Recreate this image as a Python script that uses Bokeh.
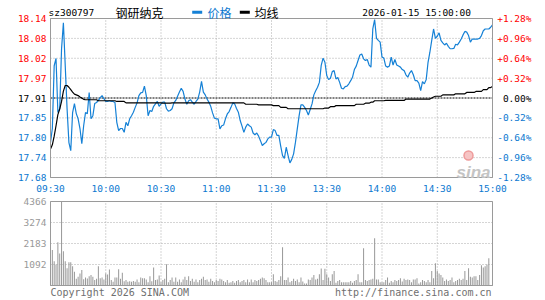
from bokeh.plotting import figure
from bokeh.models import Range1d
from bokeh.core.properties import value
from bokeh.embed import file_html
from bokeh.resources import INLINE

# ---------------- data ----------------
stock_code = "sz300797"
stock_name = "钢研纳克"
timestamp = "2026-01-15 15:00:00"
legend_labels = ["价格", "均线"]
prev_close = 17.91
pct_levels = [1.28, 0.96, 0.64, 0.32, 0.0, -0.32, -0.64, -0.96, -1.28]
price_labels = ["18.14", "18.08", "18.02", "17.97", "17.91", "17.85", "17.80", "17.74", "17.68"]
pct_labels = ["+1.28%", "+0.96%", "+0.64%", "+0.32%", "0.00%", "-0.32%", "-0.64%", "-0.96%", "-1.28%"]
time_ticks = [0, 30, 60, 90, 120, 150, 180, 210, 240]
time_labels = ["09:30", "10:00", "10:30", "11:00", "11:30", "13:30", "14:00", "14:30", "15:00"]
vol_ticks = [1092, 2183, 3274, 4366]
vol_labels = ["1092", "2183", "3274", "4366"]
vol_max = 4366
footer_left = "Copyright 2026 SINA.COM"
footer_right = "http://finance.sina.com.cn"

price = [
    17.782, 17.822, 18.003, 18.024, 17.868, 17.879, 18.052, 18.127, 18.003, 17.879,
    17.781, 17.758, 17.868, 17.894, 17.865, 17.850, 17.822, 17.778, 17.830, 17.868,
    17.865, 17.926, 17.850, 17.859, 17.894, 17.897, 17.903, 17.911, 17.917, 17.908,
    17.900, 17.900, 17.902, 17.900, 17.900, 17.897, 17.840, 17.816, 17.822, 17.822,
    17.811, 17.840, 17.830, 17.850, 17.859, 17.869, 17.883, 17.896, 17.917, 17.925,
    17.926, 17.944, 17.917, 17.859, 17.874, 17.871, 17.886, 17.893, 17.900, 17.886,
    17.893, 17.898, 17.898, 17.879, 17.872, 17.874, 17.879, 17.896, 17.903, 17.915,
    17.927, 17.938, 17.929, 17.907, 17.892, 17.902, 17.905, 17.898, 17.892, 17.900,
    17.907, 17.927, 17.958, 17.927, 17.919, 17.907, 17.898, 17.886, 17.867, 17.852,
    17.850, 17.850, 17.821, 17.830, 17.832, 17.850, 17.864, 17.871, 17.883, 17.896,
    17.893, 17.880, 17.869, 17.845, 17.829, 17.811, 17.826, 17.835, 17.830, 17.826,
    17.809, 17.804, 17.809, 17.800, 17.787, 17.773, 17.778, 17.782, 17.792, 17.797,
    17.797, 17.819, 17.816, 17.802, 17.802, 17.771, 17.744, 17.736, 17.768, 17.744,
    17.723, 17.733, 17.749, 17.782, 17.821, 17.859, 17.890, 17.890, 17.883, 17.874,
    17.861, 17.877, 17.893, 17.919, 17.931, 17.941, 17.955, 18.004, 18.025, 18.013,
    17.975, 17.963, 17.967, 17.986, 17.989, 17.965, 17.969, 17.955, 17.938, 17.936,
    17.943, 17.944, 17.951, 17.960, 17.970, 17.992, 18.002, 18.018, 18.034, 18.037,
    18.023, 18.018, 18.021, 18.005, 17.999, 18.109, 18.136, 18.082, 18.076, 18.071,
    18.028, 18.025, 18.002, 17.999, 18.002, 18.028, 18.005, 18.021, 18.005, 18.002,
    17.999, 17.992, 17.989, 17.977, 17.970, 17.982, 17.989, 17.977, 17.960, 17.960,
    17.953, 17.931, 17.957, 17.951, 17.963, 18.013, 18.042, 18.076, 18.109, 18.082,
    18.088, 18.098, 18.076, 18.069, 18.063, 18.068, 18.059, 18.052, 18.052, 18.053,
    18.065, 18.063, 18.071, 18.080, 18.092, 18.102, 18.100, 18.090, 18.071, 18.080,
    18.080, 18.080, 18.080, 18.082, 18.090, 18.104, 18.109, 18.109, 18.109, 18.114,
    18.121,
]

avg_price = [
    17.763, 17.775, 17.800, 17.830, 17.862, 17.878, 17.900, 17.930, 17.946, 17.946,
    17.941, 17.934, 17.927, 17.921, 17.919, 17.917, 17.913, 17.910, 17.906, 17.905,
    17.905, 17.905, 17.905, 17.905, 17.905, 17.905, 17.902, 17.902, 17.902, 17.902,
    17.902, 17.902, 17.902, 17.902, 17.902, 17.902, 17.900, 17.900, 17.900, 17.900,
    17.900, 17.896, 17.896, 17.896, 17.896, 17.896, 17.896, 17.896, 17.896, 17.896,
    17.896, 17.896, 17.896, 17.896, 17.896, 17.896, 17.896, 17.896, 17.896, 17.896,
    17.896, 17.895, 17.895, 17.895, 17.895, 17.895, 17.896, 17.896, 17.896, 17.896,
    17.896, 17.896, 17.896, 17.896, 17.896, 17.896, 17.896, 17.896, 17.896, 17.896,
    17.896, 17.896, 17.896, 17.896, 17.896, 17.896, 17.896, 17.896, 17.896, 17.896,
    17.896, 17.896, 17.896, 17.896, 17.896, 17.896, 17.896, 17.896, 17.896, 17.896,
    17.896, 17.896, 17.896, 17.896, 17.896, 17.896, 17.892, 17.892, 17.892, 17.892,
    17.892, 17.892, 17.892, 17.890, 17.890, 17.890, 17.890, 17.890, 17.890, 17.890,
    17.890, 17.888, 17.888, 17.888, 17.888, 17.883, 17.883, 17.883, 17.883, 17.879,
    17.879, 17.879, 17.879, 17.879, 17.879, 17.879, 17.879, 17.879, 17.879, 17.879,
    17.879, 17.879, 17.879, 17.879, 17.879, 17.879, 17.879, 17.879, 17.879, 17.881,
    17.881, 17.881, 17.885, 17.885, 17.885, 17.888, 17.888, 17.888, 17.888, 17.888,
    17.888, 17.888, 17.888, 17.888, 17.888, 17.888, 17.892, 17.892, 17.892, 17.892,
    17.892, 17.895, 17.895, 17.895, 17.898, 17.898, 17.902, 17.902, 17.902, 17.902,
    17.902, 17.902, 17.903, 17.903, 17.903, 17.903, 17.903, 17.903, 17.903, 17.903,
    17.903, 17.903, 17.903, 17.907, 17.907, 17.907, 17.907, 17.907, 17.907, 17.907,
    17.907, 17.907, 17.907, 17.907, 17.907, 17.907, 17.907, 17.910, 17.913, 17.915,
    17.915, 17.915, 17.915, 17.919, 17.919, 17.919, 17.919, 17.919, 17.919, 17.919,
    17.922, 17.922, 17.922, 17.922, 17.922, 17.922, 17.926, 17.926, 17.926, 17.926,
    17.926, 17.929, 17.929, 17.929, 17.929, 17.934, 17.934, 17.934, 17.940, 17.940,
    17.943,
]

volume = [
    590, 1840, 1265, 1090, 2250, 1660, 4366, 1785, 1265, 900,
    1210, 1210, 1005, 710, 350, 450, 620, 800, 330, 415,
    365, 485, 540, 450, 280, 350, 1005, 380, 415, 310,
    620, 570, 830, 280, 190, 415, 415, 850, 350, 660,
    225, 280, 190, 225, 190, 240, 190, 310, 175, 415,
    380, 380, 310, 175, 485, 225, 935, 280, 310, 520,
    175, 280, 350, 1110, 175, 280, 415, 190, 415, 190,
    310, 175, 310, 450, 280, 485, 240, 350, 190, 310,
    175, 280, 350, 450, 280, 310, 190, 350, 240, 175,
    280, 240, 350, 310, 240, 175, 280, 140, 175, 240,
    140, 240, 280, 175, 240, 280, 175, 310, 175, 310,
    175, 280, 240, 280, 350, 415, 380, 280, 175, 175,
    175, 590, 240, 190, 280, 485, 1990, 280, 280, 415,
    175, 240, 350, 240, 310, 175, 415, 210, 100, 100,
    310, 280, 415, 540, 310, 350, 590, 885, 280, 865,
    590, 415, 240, 590, 760, 140, 240, 280, 175, 175,
    175, 175, 175, 240, 140, 240, 280, 590, 175, 175,
    1940, 280, 240, 280, 310, 350, 2460, 310, 310, 175,
    175, 175, 280, 415, 140, 240, 175, 280, 240, 280,
    380, 210, 350, 280, 310, 280, 175, 310, 310, 380,
    100, 175, 280, 240, 175, 280, 175, 760, 380, 1160,
    760, 620, 540, 415, 240, 310, 240, 280, 415, 175,
    240, 280, 350, 280, 350, 760, 280, 900, 450, 415,
    485, 485, 280, 540, 1055, 935, 1005, 1090, 1420, 0,
    1500,
]

# ---------------- layout / style constants ----------------
W, H = 545, 300
L, R = 50, 492          # plot area left/right (px)
PT, PB = 18, 177        # price panel top/bottom (px)
VT, VB = 201, 285       # volume panel top/bottom (px)
N_MIN = 240

MONO = "DejaVu Sans Mono"
CJK = "Noto Sans CJK SC"
RED = "#ff0000"
BLUE = "#0b78d0"
LINE_BLUE = "#1581d6"
GRID = "#aaaaaa"
FRAME = "#9a9a9a"
VOLGRAY = "#999999"
FOOTGRAY = "#6f6f6f"

levels = [prev_close * (1 + v / 100.0) for v in pct_levels]
hi, lo = levels[0], levels[-1]

mpp = N_MIN / (R - L)                 # minutes per pixel
ppp = (hi - lo) / (PB - PT)           # price per pixel
vpp = vol_max / (VB - VT)             # volume per pixel


def X(px):
    return (px - L) * mpp


def YP(py):
    return hi - (py - PT) * ppp


def YV(py):
    return vol_max - (py - VT) * vpp


p = figure(width=W, height=H, output_backend="svg", toolbar_location=None,
           x_range=Range1d(X(0), X(W)), y_range=Range1d(YP(H), YP(0)),
           x_axis_location=None, y_axis_location=None,
           min_border=0, min_border_left=0, min_border_right=0,
           min_border_top=0, min_border_bottom=0)
p.extra_y_ranges = {"vol": Range1d(YV(H), YV(0))}
p.outline_line_color = None
p.background_fill_color = "white"
p.border_fill_color = "white"
p.grid.visible = False

# ---------- price panel grid ----------
grid_levels = [lv for lv, v in zip(levels, pct_levels) if v != 0]
p.segment(x0=[0] * len(grid_levels), x1=[N_MIN] * len(grid_levels),
          y0=grid_levels, y1=grid_levels,
          line_color=GRID, line_dash="1 2", line_width=1)
p.segment(x0=time_ticks, x1=time_ticks, y0=[lo] * len(time_ticks), y1=[hi] * len(time_ticks),
          line_color=GRID, line_dash="1 2", line_width=1)
p.segment(x0=[0], x1=[N_MIN], y0=[prev_close], y1=[prev_close],
          line_color="black", line_dash="2 1", line_width=1)

# ---------- price + average lines ----------
p.line(x=list(range(len(price))), y=price, line_color=LINE_BLUE, line_width=1.2)
p.line(x=list(range(len(avg_price))), y=avg_price, line_color="black", line_width=1.2)

p.quad(left=[0], right=[N_MIN], bottom=[lo], top=[hi],
       fill_color=None, line_color=FRAME, line_width=1)

# ---------- price labels ----------
label_colors = [RED if v > 0 else (BLUE if v < 0 else "black") for v in pct_levels]
p.text(x=[X(46)] * len(levels), y=levels, text=price_labels, text_color=label_colors,
       text_align="right", text_baseline="middle",
       text_font=value(MONO), text_font_size=value("9.5px"))
p.text(x=[X(531)] * len(levels), y=levels, text=pct_labels, text_color=label_colors,
       text_align="right", text_baseline="middle",
       text_font=value(MONO), text_font_size=value("9.5px"))
p.text(x=time_ticks, y=[YP(188)] * len(time_ticks), text=time_labels, text_color=BLUE,
       text_align="center", text_baseline="middle",
       text_font=value(MONO), text_font_size=value("9.5px"))

# ---------- header ----------
hy = YP(11.5)
p.text(x=[X(48)], y=[hy], text=[stock_code], text_color="black",
       text_align="left", text_baseline="middle",
       text_font=value(MONO), text_font_size=value("9.5px"))
p.text(x=[X(115)], y=[hy], text=[stock_name], text_color="black",
       text_align="left", text_baseline="middle",
       text_font=value(CJK), text_font_size=value("12px"))
p.rect(x=[X(196.7), X(244.3)], y=[YP(11.7)] * 2, width=10, height=3,
       width_units="screen", height_units="screen",
       fill_color=[LINE_BLUE, "black"], line_color=None)
p.text(x=[X(207), X(254)], y=[hy] * 2, text=legend_labels, text_color=[BLUE, "black"],
       text_align="left", text_baseline="middle",
       text_font=value(CJK), text_font_size=value("12px"))
p.text(x=[X(470.5)], y=[hy], text=[timestamp], text_color="black",
       text_align="right", text_baseline="middle",
       text_font=value(MONO), text_font_size=value("9.5px"))

# ---------- watermark ----------
p.scatter(x=[X(468)], y=[YP(155)], size=9, marker="circle",
          fill_color="#f6c4c4", line_color="#ee9a9a", line_width=1.5)
p.text(x=[X(490)], y=[YP(172)], text=["sina"], text_color="#c4c4c4",
       text_align="right", text_baseline="alphabetic",
       text_font=value("Liberation Sans"), text_font_style="bold italic",
       text_font_size=value("17px"))

# ---------- volume panel ----------
p.segment(x0=[0] * len(vol_ticks), x1=[N_MIN] * len(vol_ticks),
          y0=vol_ticks, y1=vol_ticks, y_range_name="vol",
          line_color=GRID, line_dash="1 2", line_width=1)
p.segment(x0=time_ticks, x1=time_ticks, y0=[0] * len(time_ticks),
          y1=[vol_max] * len(time_ticks), y_range_name="vol",
          line_color=GRID, line_dash="1 2", line_width=1)
p.vbar(x=list(range(len(volume))), top=volume, bottom=0, width=0.55, y_range_name="vol",
       fill_color=VOLGRAY, line_color=None)
p.quad(left=[0], right=[N_MIN], bottom=[0], top=[vol_max], y_range_name="vol",
       fill_color=None, line_color=FRAME, line_width=1)
p.text(x=[X(46)] * len(vol_ticks), y=vol_ticks, text=vol_labels, y_range_name="vol",
       text_color=VOLGRAY, text_align="right", text_baseline="middle",
       text_font=value(MONO), text_font_size=value("9.5px"))

# ---------- footer ----------
fy = YV(292)
p.text(x=[X(50)], y=[fy], text=[footer_left], y_range_name="vol", text_color=FOOTGRAY,
       text_align="left", text_baseline="middle",
       text_font=value(MONO), text_font_size=value("10px"))
p.text(x=[X(491)], y=[fy], text=[footer_right], y_range_name="vol", text_color=FOOTGRAY,
       text_align="right", text_baseline="middle",
       text_font=value(MONO), text_font_size=value("10px"))

open("out.html", "w").write(file_html(p, INLINE))
